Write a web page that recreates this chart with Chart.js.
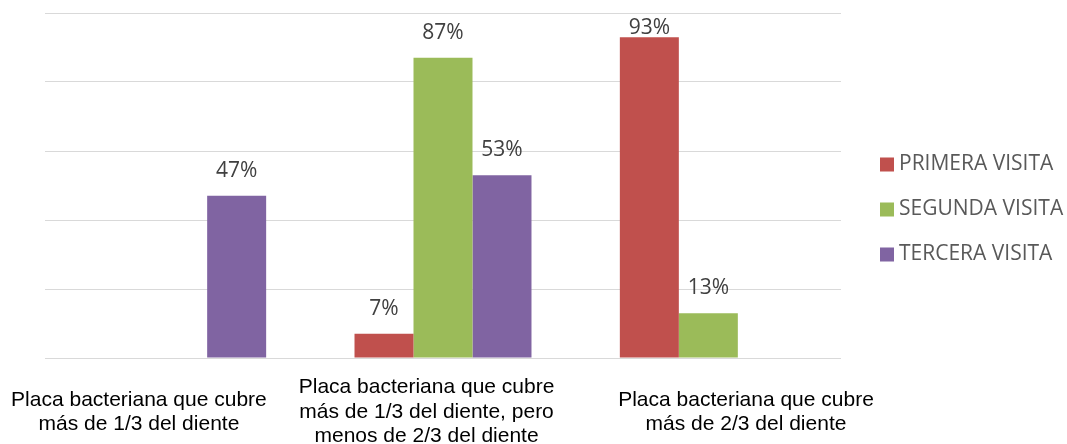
<!DOCTYPE html>
<html lang="es">
<head>
<meta charset="utf-8">
<title>Placa bacteriana por visita</title>
<script src="https://cdn.jsdelivr.net/npm/chart.js@4/dist/chart.umd.min.js"></script>
<style>
  html, body { margin: 0; padding: 0; background: #ffffff; }
  #wrap { width: 1067px; height: 444px; position: relative; }
</style>
</head>
<body>
<div id="wrap"><canvas id="chart"></canvas></div>
<script>
// Categories (multi-line axis labels)
const categories = [
  ['Placa bacteriana que cubre', 'más de 1/3 del diente'],
  ['Placa bacteriana que cubre', 'más de 1/3 del diente, pero', 'menos de 2/3 del diente'],
  ['Placa bacteriana que cubre', 'más de 2/3 del diente']
];

// Series names and values (percent); null = no bar
const seriesNames = ['PRIMERA VISITA', 'SEGUNDA VISITA', 'TERCERA VISITA'];
const primeraVisita = [null, 7, 93];
const segundaVisita = [null, 87, 13];
const terceraVisita = [47, 53, null];

// Value axis ticks (gridlines only, no tick text)
const yTicks = [0, 20, 40, 60, 80, 100];

// Horizontal centres of the category captions, in category units
const captionCenters = [0.354, 1.438, 2.642];

const colors = ['#C0504D', '#9BBB59', '#8064A2'];

// Percentage labels above each bar, kept inside the chart's top edge
const valueLabels = {
  id: 'valueLabels',
  afterDatasetsDraw(chart) {
    const ctx = chart.ctx;
    ctx.save();
    ctx.font = '21px "Open Sans"';
    ctx.fillStyle = '#404040';
    ctx.textAlign = 'center';
    ctx.textBaseline = 'middle';
    chart.data.datasets.forEach((ds, di) => {
      chart.getDatasetMeta(di).data.forEach((bar, i) => {
        const v = ds.data[i];
        if (v === null || v === undefined) return;
        const y = Math.max(bar.y - 25, 28);
        ctx.fillText(v + '%', bar.x, y);
      });
    });
    ctx.restore();
  }
};

const seriesData = [primeraVisita, segundaVisita, terceraVisita];

new Chart(document.getElementById('chart'), {
  type: 'bar',
  data: {
    labels: categories.map(c => c.join(' ')),
    datasets: seriesNames.map((name, i) => ({
      label: name,
      data: seriesData[i],
      backgroundColor: colors[i],
      borderWidth: 0,
      barPercentage: 1,
      categoryPercentage: 0.667
    }))
  },
  options: {
    responsive: true,
    maintainAspectRatio: false,
    animation: false,
    events: [],
    layout: { padding: { top: 13, bottom: 0, left: 0, right: 0 } },
    scales: {
      x: {
        type: 'category',
        display: false
      },
      captions: {
        type: 'linear',
        position: 'bottom',
        min: 0,
        max: 3,
        offset: false,
        grid: { display: false, drawTicks: false },
        border: { display: false },
        afterBuildTicks: scale => {
          scale.ticks = captionCenters.map(v => ({ value: v }));
        },
        afterFit: scale => {
          scale.height = 86;
          scale.paddingLeft = 0;
          scale.paddingRight = 0;
        },
        ticks: {
          autoSkip: false,
          maxRotation: 0,
          minRotation: 0,
          padding: 29.5,
          crossAlign: 'center',
          color: '#000000',
          font: { family: '"Liberation Sans", Arial, sans-serif', size: 21, lineHeight: 1.17 },
          callback: (value, index) => categories[index]
        }
      },
      y: {
        type: 'linear',
        position: 'left',
        min: 0,
        max: 100,
        afterBuildTicks: scale => {
          scale.ticks = yTicks.map(v => ({ value: v }));
        },
        afterFit: scale => { scale.width = 45; },
        grid: { color: '#D9D9D9', lineWidth: 1, drawTicks: false },
        border: { display: false },
        ticks: { display: false }
      },
      gap: {
        type: 'linear',
        position: 'right',
        grid: { display: false, drawTicks: false },
        border: { display: false },
        ticks: { display: false },
        afterFit: scale => { scale.width = 20.5; }
      }
    },
    plugins: {
      legend: {
        position: 'right',
        align: 'start',
        maxWidth: 205.5,
        title: {
          display: true,
          text: '',
          font: { size: 10, lineHeight: 1.2 },
          padding: { top: 105, bottom: 0 }
        },
        labels: {
          usePointStyle: true,
          pointStyle: 'rect',
          boxWidth: 3,
          boxHeight: 14,
          padding: 24,
          color: '#595959',
          font: { family: '"Open Sans", sans-serif', size: 21 }
        }
      },
      tooltip: { enabled: false }
    }
  },
  plugins: [valueLabels]
});
</script>
</body>
</html>
